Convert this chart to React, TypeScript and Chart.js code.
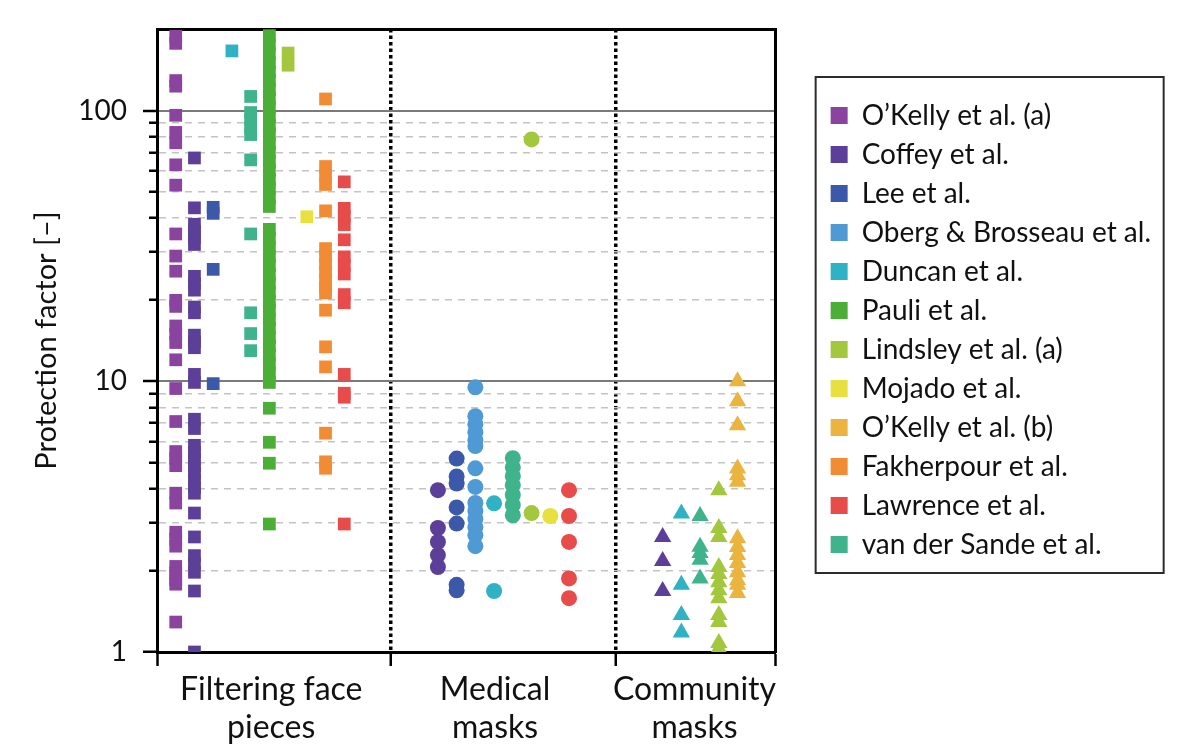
import React, { useEffect, useRef } from "react";
import { Chart, registerables } from "chart.js";

Chart.register(...registerables);

const FONT = "Lato";

// ---- x axis layout (slot units) ----
const categoryBounds = [0, 12.5, 24.5, 33];
const categoryCenters = [6.1, 18.05, 28.7];
const categoryLabels = [
  ["Filtering face", "pieces"],
  ["Medical", "masks"],
  ["Community", "masks"],
];

// ---- y axis ticks ----
const yTickValues = [1, 2, 3, 4, 5, 6, 7, 8, 9, 10, 20, 30, 40, 50, 60, 70, 80, 90, 100];
const yLabelled = [1, 10, 100];

// ---- studies ----
const studyNames = [
  "O\u2019Kelly et al. (a)",
  "Coffey et al.",
  "Lee et al.",
  "Oberg & Brosseau et al.",
  "Duncan et al.",
  "Pauli et al.",
  "Lindsley et al. (a)",
  "Mojado et al.",
  "O\u2019Kelly et al. (b)",
  "Fakherpour et al.",
  "Lawrence et al.",
  "van der Sande et al.",
];
const studyColors = [
  "#8a44a0",
  "#5c3f98",
  "#3b59a8",
  "#4f9ad5",
  "#2fb2c4",
  "#4aae37",
  "#a3c73d",
  "#e7e03f",
  "#eab43e",
  "#f18c35",
  "#e74c4a",
  "#3fb48c",
];

// slot of each study inside each mask category (null = not measured)
const ffpSlots = [1, 2, 3, null, 4, 6, 7, 8, null, 9, 10, 5];
const medSlots = [null, 15, 16, 17, 18, null, 20, 21, null, null, 22, 19];
const comSlots = [null, 27, null, null, 28, null, 30, null, 31, null, null, 29];

// ---- Filtering face pieces ----
const okellyA_ffp = [188, 177, 129, 123, 96, 83, 76, 63, 53, 35, 29, 25.5, 19.9, 18.9, 16.0, 14.9, 13.9, 12.0, 9.4, 7.1, 5.5, 5.18, 4.88, 3.86, 3.55, 2.77, 2.61, 2.46, 2.07, 1.96, 1.85, 1.78, 1.29];
const coffey_ffp = [66.8, 43.7, 38.0, 35.8, 34.0, 32.0, 24.4, 23.0, 21.7, 18.8, 17.9, 14.8, 14.0, 13.3, 10.6, 9.9, 7.24, 6.69, 5.8, 5.47, 5.16, 4.86, 4.58, 4.31, 4.06, 3.86, 3.26, 2.66, 2.27, 2.12, 1.97, 1.68, 1.0];
const lee_ffp = [43.9, 41.7, 25.9, 9.8];
const duncan_ffp = [166];
const pauli_ffp = [189, 175, 162, 150, 139, 129, 119.5, 110.7, 102.6, 95, 88, 81.5, 75.5, 70, 64.8, 60.1, 55.6, 51.6, 47.8, 44.2, 36.4, 33.7, 31.2, 28.9, 26.8, 24.8, 23.0, 21.3, 19.7, 18.3, 16.9, 15.7, 14.5, 13.5, 12.5, 11.6, 10.7, 9.9, 7.95, 5.95, 4.98, 2.97];
const lindsley_ffp = [163, 147];
const mojado_ffp = [40.5];
const fakherpour_ffp = [110.3, 62.1, 57.6, 53.3, 42.6, 30.9, 28.9, 27.0, 25.3, 23.6, 22.2, 21.2, 18.3, 13.4, 11.3, 6.43, 5.04, 4.77];
const lawrence_ffp = [54.5, 43.5, 40.6, 37.9, 33.3, 28.8, 26.8, 24.9, 20.9, 19.5, 10.6, 9.03, 8.73, 2.97];
const vds_ffp = [112.7, 98.3, 92.6, 86.5, 81.5, 65.7, 35.0, 17.9, 15.0, 12.97];

// ---- Medical masks ----
const coffey_med = [3.96, 2.87, 2.55, 2.28, 2.06];
const lee_med = [5.18, 4.45, 4.19, 3.42, 2.98, 1.77, 1.69];
const oberg_med = [9.5, 7.43, 6.94, 6.48, 6.06, 5.76, 4.77, 4.07, 3.55, 3.32, 3.10, 2.89, 2.70, 2.46];
const duncan_med = [3.54, 1.68];
const vds_med = [5.2, 4.81, 4.46, 4.13, 3.8, 3.49, 3.2];
const lindsley_med = [78.2, 3.26];
const mojado_med = [3.18];
const lawrence_med = [3.96, 3.18, 2.55, 1.87, 1.58];

// ---- Community masks ----
const coffey_com = [2.66, 2.17, 1.68];
const duncan_com = [3.25, 1.77, 1.37, 1.18];
const vds_com = [3.18, 2.45, 2.32, 2.19, 1.87];
const lindsley_com = [3.96, 2.87, 2.66, 2.06, 1.94, 1.81, 1.69, 1.58, 1.37, 1.29, 1.08, 1.03];
const okellyB_com = [10.0, 8.44, 6.88, 4.76, 4.5, 4.25, 2.63, 2.44, 2.28, 2.13, 1.97, 1.84, 1.77, 1.65];

const ffpValues = [okellyA_ffp, coffey_ffp, lee_ffp, [], duncan_ffp, pauli_ffp, lindsley_ffp, mojado_ffp, [], fakherpour_ffp, lawrence_ffp, vds_ffp];
const medValues = [[], coffey_med, lee_med, oberg_med, duncan_med, [], lindsley_med, mojado_med, [], [], lawrence_med, vds_med];
const comValues = [[], coffey_com, [], [], duncan_com, [], lindsley_com, [], okellyB_com, [], [], vds_com];

const markerFor = (x: number | undefined) =>
  x == null || x < categoryBounds[1] ? "rect" : x < categoryBounds[2] ? "circle" : "triangle";
const markerRadius: Record<string, number> = { rect: 9, circle: 8, triangle: 10 };

const dividers = categoryBounds.slice(1, -1);

// layout constants (canvas pixels)
const PAD_TOP = 21;
const PAD_RIGHT = 31;
const PLOT_LEFT = 149;
const PLOT_RIGHT = 767;
const X_AXIS_HEIGHT = 93;

const legendFrame = {
  id: "legendFrame",
  afterDraw(chart: any) {
    const lg = chart.legend;
    if (!lg || !lg.legendHitBoxes || !lg.legendHitBoxes.length) return;
    const hb = lg.legendHitBoxes;
    const f = hb[0];
    const l = hb[hb.length - 1];
    const left = f.left - 15;
    const right = left + 348;
    const top = f.top + f.height / 2 - 38.5;
    const bottom = l.top + l.height / 2 + 28.5;
    const ctx = chart.ctx;
    ctx.save();
    ctx.strokeStyle = "#2b2b2b";
    ctx.lineWidth = 2;
    ctx.strokeRect(left, top, right - left, bottom - top);
    ctx.restore();
  },
};

function buildDatasets() {
  return studyNames.map((name, i) => {
    const pts: { x: number; y: number }[] = [];
    const groups: [(number | null)[], number[][]][] = [
      [ffpSlots, ffpValues],
      [medSlots, medValues],
      [comSlots, comValues],
    ];
    groups.forEach(([slots, vals]) => {
      const s = slots[i];
      if (s == null) return;
      vals[i].forEach((v) => pts.push({ x: s, y: v }));
    });
    return {
      label: name,
      data: pts,
      backgroundColor: studyColors[i],
      borderColor: studyColors[i],
      borderWidth: 0,
      pointBorderWidth: 0,
      pointBackgroundColor: studyColors[i],
      pointStyle: (c: any) => markerFor(c.raw ? c.raw.x : undefined),
      pointRadius: (c: any) => markerRadius[markerFor(c.raw ? c.raw.x : undefined)],
      pointHoverRadius: (c: any) => markerRadius[markerFor(c.raw ? c.raw.x : undefined)],
      showLine: false,
      clip: 0,
    };
  });
}

export default function App() {
  const ref = useRef<HTMLCanvasElement>(null);
  useEffect(() => {
    if (!ref.current) return;
    Chart.defaults.font.family = FONT;
    const chart = new Chart(ref.current, {
      type: "scatter",
      data: { datasets: buildDatasets() as any },
      plugins: [legendFrame],
      options: {
        animation: false,
        responsive: true,
        maintainAspectRatio: false,
        events: [],
        layout: { padding: { top: PAD_TOP, right: PAD_RIGHT, bottom: 0, left: 0 } },
        plugins: {
          tooltip: { enabled: false },
          legend: {
            position: "right",
            align: "start",
            maxWidth: 400,
            title: {
              display: true,
              text: "",
              font: { size: 1, lineHeight: 1 },
              padding: { top: 60.5, bottom: 0 },
            },
            labels: {
              boxWidth: 17,
              boxHeight: 17,
              padding: 11,
              color: "#111",
              font: { family: FONT, size: 28 },
            },
          },
        },
        scales: {
          x: {
            type: "linear",
            position: "bottom",
            min: 0,
            max: 33,
            afterBuildTicks: (s: any) => {
              s.ticks = [...categoryBounds, ...categoryCenters]
                .sort((a, b) => a - b)
                .map((v) => ({ value: v }));
            },
            afterFit: (s: any) => {
              s.height = X_AXIS_HEIGHT;
            },
            ticks: {
              autoSkip: false,
              maxRotation: 0,
              minRotation: 0,
              padding: 5,
              color: "#111",
              font: { family: FONT, size: 32, lineHeight: 1.1875 },
              callback: (v: any) => {
                const i = categoryCenters.indexOf(Number(v));
                return i >= 0 ? categoryLabels[i] : "";
              },
            },
            grid: {
              color: (c: any) => (c.tick && dividers.includes(c.tick.value) ? "#000" : "rgba(0,0,0,0)"),
              lineWidth: (c: any) => (c.tick && dividers.includes(c.tick.value) ? 3.5 : 1),
              tickColor: (c: any) => (c.tick && categoryBounds.includes(c.tick.value) ? "#000" : "rgba(0,0,0,0)"),
              tickWidth: 2.5,
              tickLength: 14,
            },
            border: {
              color: "#000",
              width: 3,
              dash: (c: any) => (c.tick && dividers.includes(c.tick.value) ? [3.5, 3] : []),
            },
          },
          x2: {
            type: "linear",
            position: "top",
            grid: { display: false },
            ticks: { display: false },
            border: { color: "#000", width: 3 },
            afterFit: (s: any) => {
              s.height = 0;
            },
          },
          y: {
            type: "logarithmic",
            position: "left",
            min: 1,
            max: 200,
            afterBuildTicks: (s: any) => {
              s.ticks = yTickValues.map((v) => ({ value: v }));
            },
            afterFit: (s: any) => {
              s.width = PLOT_LEFT;
            },
            ticks: {
              autoSkip: false,
              padding: 16,
              color: "#111",
              font: { family: FONT, size: 28, lineHeight: 0.25 },
              callback: (v: any) => (yLabelled.includes(Number(v)) ? String(v) : ""),
            },
            grid: {
              color: (c: any) => {
                const v = c.tick ? c.tick.value : null;
                if (v == null || v === 1) return "rgba(0,0,0,0)";
                return v === 10 || v === 100 ? "#7a7a7a" : "#c4c4c4";
              },
              lineWidth: (c: any) => {
                const v = c.tick ? c.tick.value : null;
                return v === 10 || v === 100 ? 2 : 1.5;
              },
              tickColor: "#000",
              tickWidth: 2.5,
              tickLength: 14,
              tickBorderDash: (c: any) => {
                const v = c.tick ? c.tick.value : null;
                return v != null && yLabelled.includes(v) ? [] : [0, 6, 8, 100];
              },
            },
            border: {
              color: "#000",
              width: 3,
              dash: (c: any) => {
                const v = c.tick ? c.tick.value : null;
                return v != null && !yLabelled.includes(v) ? [7, 6] : [];
              },
            },
            title: {
              display: true,
              text: "Protection factor [\u2013]",
              color: "#111",
              font: { family: FONT, size: 29 },
              padding: { top: 21, bottom: 0 },
            },
          },
          y2: {
            type: "linear",
            position: "right",
            grid: { display: false },
            ticks: { display: false },
            border: { color: "#000", width: 3 },
            afterFit: (s: any) => {
              const lg = s.chart.legend;
              const lw = lg && lg.width ? lg.width : 342;
              s.width = Math.max(0, s.chart.width - PAD_RIGHT - lw - PLOT_RIGHT);
            },
          },
        },
      } as any,
    });
    return () => chart.destroy();
  }, []);
  return (
    <div style={{ width: 1184, height: 737, position: "relative" }}>
      <canvas ref={ref} />
    </div>
  );
}
